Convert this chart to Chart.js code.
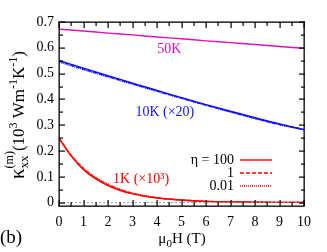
<!DOCTYPE html>
<html>
<head>
<meta charset="utf-8">
<script src="https://cdn.jsdelivr.net/npm/chart.js@4/dist/chart.umd.min.js"></script>
<style>
html,body{margin:0;padding:0;background:#fff;}
canvas{display:block;}
</style>
</head>
<body>
<canvas id="c" width="327" height="252"></canvas>
<script>
// ---- data ----
const xGrid = [0, 1, 2, 3, 4, 5, 6, 7, 8, 9, 10];
const k50 = [0.672, 0.665, 0.657, 0.650, 0.642, 0.635, 0.627, 0.620, 0.613, 0.605, 0.598];
const k10_eta100 = [0.551, 0.521, 0.492, 0.463, 0.435, 0.407, 0.380, 0.354, 0.329, 0.305, 0.283];
const k10_eta1   = [0.549, 0.518, 0.489, 0.461, 0.433, 0.405, 0.378, 0.352, 0.327, 0.303, 0.283];
const k10_eta001 = [0.545, 0.515, 0.487, 0.459, 0.431, 0.404, 0.377, 0.351, 0.326, 0.302, 0.282];
const xRed = [0, 0.5, 1, 1.5, 2, 2.5, 3, 3.5, 4, 5, 6, 7, 8, 9, 10];
const k1_eta100 = [0.250, 0.180, 0.128, 0.092, 0.066, 0.047, 0.034, 0.025, 0.018, 0.010, 0.005, 0.003, 0.002, 0.001, 0.001];
const k1_eta1   = [0.250, 0.182, 0.131, 0.095, 0.069, 0.050, 0.036, 0.026, 0.019, 0.010, 0.005, 0.003, 0.002, 0.001, 0.001];
const k1_eta001 = [0.250, 0.184, 0.134, 0.098, 0.072, 0.052, 0.037, 0.027, 0.019, 0.010, 0.005, 0.003, 0.002, 0.001, 0.001];
const xTicks = [0, 1, 2, 3, 4, 5, 6, 7, 8, 9, 10];
const yTicks = [0, 0.1, 0.2, 0.3, 0.4, 0.5, 0.6, 0.7];
const legendLabels = ['η = 100', '1', '0.01'];
const seriesLabels = ['50K', '10K (×20)', '1K (×10³)'];

const MAG = '#e010c0', BLUE = '#1010ff', RED = '#ff0000';
const FONT = "'Liberation Serif', 'DejaVu Serif', serif";

const pts = (xs, ys) => xs.map((x, i) => ({x: x, y: ys[i]}));
const line = (data, color, dash) => ({
  data: data, borderColor: color, borderWidth: 1.4, borderDash: dash || [],
  pointRadius: 0, tension: 0.4, fill: false, cubicInterpolationMode: 'monotone'
});

function richText(ctx, segs, cx, cy) {
  let w = 0; const pos = [];
  let lastStart = 0;
  segs.forEach(s => {
    ctx.font = s.size + 'px ' + FONT;
    const sw = ctx.measureText(s.t).width;
    if (s.stack) { pos.push(lastStart); w = Math.max(w, lastStart + sw); }
    else { pos.push(w); lastStart = w; w += sw; }
  });
  segs.forEach((s, i) => {
    ctx.font = s.size + 'px ' + FONT;
    ctx.fillText(s.t, cx - w / 2 + pos[i], cy + (s.dy || 0));
  });
}

const decor = {
  id: 'decor',
  afterDraw(chart) {
    const ctx = chart.ctx, a = chart.chartArea;
    const xs = chart.scales.x, ys = chart.scales.y;
    ctx.save();
    ctx.setLineDash([]);
    ctx.globalAlpha = 1;
    ctx.fillStyle = '#000';
    const L = Math.round(a.left), R = Math.round(a.right), T = Math.round(a.top), B = Math.round(a.bottom);
    ctx.fillRect(L - 0.5, T - 0.5, R - L + 1, 1.3);
    ctx.fillRect(L - 0.5, B - 0.5, R - L + 1, 1.3);
    ctx.fillRect(L - 0.5, T - 0.5, 1.3, B - T + 1);
    ctx.fillRect(R - 0.5, T - 0.5, 1.3, B - T + 1);
    for (let i = 0; i <= 20; i++) {
      const v = i * 0.5;
      const px = Math.round(xs.getPixelForValue(v));
      const len = i % 2 === 0 ? 6 : 4;
      ctx.fillRect(px - 0.5, B - len, 1.2, len);
      ctx.fillRect(px - 0.5, T, 1.2, len);
    }
    for (let i = 0; i <= 14; i++) {
      const v = i * 0.05;
      const py = Math.round(ys.getPixelForValue(v));
      const len = i % 2 === 0 ? 6 : 4;
      ctx.fillRect(L, py - 0.5, len, 1.2);
      ctx.fillRect(R - len + 1, py - 0.5, len, 1.2);
    }

    // series labels
    ctx.textBaseline = 'middle';
    ctx.font = '14px ' + FONT; ctx.textAlign = 'center';
    ctx.fillStyle = MAG;
    ctx.fillText(seriesLabels[0], xs.getPixelForValue(4.5), ys.getPixelForValue(0.594));
    ctx.fillStyle = BLUE;
    ctx.fillText(seriesLabels[1], xs.getPixelForValue(4.32), ys.getPixelForValue(0.349));
    ctx.fillStyle = RED;
    ctx.fillText(seriesLabels[2], xs.getPixelForValue(3.35), ys.getPixelForValue(0.092));

    // legend
    const rows = [160, 173, 186], dashes = [[], [4, 2], [1, 1]];
    ctx.textAlign = 'right'; ctx.fillStyle = '#000'; ctx.font = '14px ' + FONT;
    rows.forEach((y, i) => {
      ctx.fillText(legendLabels[i], 234, y);
      ctx.beginPath(); ctx.setLineDash(dashes[i]);
      ctx.strokeStyle = RED; ctx.lineWidth = 1.4;
      ctx.moveTo(240, y); ctx.lineTo(272, y); ctx.stroke();
    });
    ctx.setLineDash([]);

    // axis titles
    ctx.fillStyle = '#000'; ctx.textAlign = 'left'; ctx.textBaseline = 'alphabetic';
    richText(ctx, [
      {t: 'μ', size: 15}, {t: '0', size: 11, dy: 4}, {t: 'H (T)', size: 15}
    ], 182, 243);
    ctx.save();
    ctx.translate(24, 115); ctx.rotate(-Math.PI / 2);
    richText(ctx, [
      {t: 'κ', size: 21}, {t: 'xx', size: 13, dy: 4}, {t: '(m)', size: 12, dy: -11, stack: true},
      {t: '(10', size: 17}, {t: '3', size: 12, dy: -7}, {t: ' Wm', size: 17}, {t: '-1', size: 12, dy: -7},
      {t: 'K', size: 17}, {t: '-1', size: 12, dy: -7}, {t: ')', size: 17}
    ], 0, 0);
    ctx.restore();

    ctx.font = '19px ' + FONT; ctx.textAlign = 'left'; ctx.textBaseline = 'middle';
    ctx.fillText('(b)', 0, 238);
    ctx.restore();
  }
};

new Chart(document.getElementById('c'), {
  type: 'line',
  data: {
    datasets: [
      {data: [{x: 0, y: 0}, {x: 10, y: 0}], borderColor: '#999', borderWidth: 1, borderDash: [2, 2], pointRadius: 0},
      line(pts(xGrid, k50), MAG),
      line(pts(xGrid, k10_eta001), BLUE, [1, 1]),
      line(pts(xGrid, k10_eta1), BLUE, [4, 2]),
      line(pts(xGrid, k10_eta100), BLUE),
      line(pts(xRed, k1_eta001), RED, [1, 1]),
      line(pts(xRed, k1_eta1), RED, [4, 2]),
      line(pts(xRed, k1_eta100), RED)
    ]
  },
  options: {
    responsive: false, animation: false, devicePixelRatio: 1,
    layout: {padding: {left: 0, right: 23, top: 22, bottom: 0}},
    plugins: {legend: {display: false}, tooltip: {enabled: false}},
    scales: {
      x: {
        type: 'linear', min: 0, max: 10,
        grid: {display: false, drawTicks: false}, border: {display: false},
        afterBuildTicks: s => { s.ticks = xTicks.map(v => ({value: v})); },
        afterFit: s => { s.height = 46; },
        ticks: {color: '#000', padding: 8, maxRotation: 0, font: {family: FONT, size: 14}}
      },
      y: {
        type: 'linear', min: -0.013, max: 0.7,
        grid: {display: false, drawTicks: false}, border: {display: false},
        afterBuildTicks: s => { s.ticks = yTicks.map(v => ({value: v})); },
        afterFit: s => { s.width = 59; },
        ticks: {color: '#000', padding: 5, font: {family: FONT, size: 14},
          callback: v => (Math.abs(v) < 1e-9 ? '0' : (+v).toFixed(1))}
      }
    }
  },
  plugins: [decor]
});
</script>
</body>
</html>
